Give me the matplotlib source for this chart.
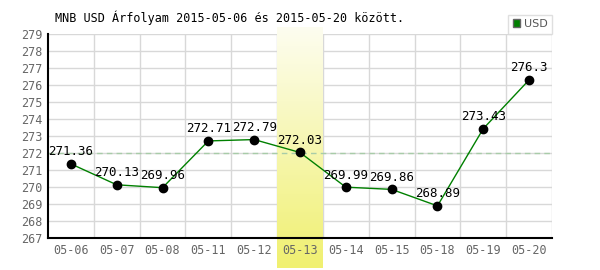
import numpy as np
import matplotlib.pyplot as plt
import matplotlib.colors as mcolors

dates = ['05-06', '05-07', '05-08', '05-11', '05-12', '05-13',
         '05-14', '05-15', '05-18', '05-19', '05-20']
usd = [271.36, 270.13, 269.96, 272.71, 272.79, 272.03,
       269.99, 269.86, 268.89, 273.43, 276.3]
avg_line = 272
highlight = '05-13'
title = 'MNB USD Árfolyam 2015-05-06 és 2015-05-20 között.'

plt.rcParams['font.family'] = ['DejaVu Sans Mono']

fig = plt.figure(figsize=(6, 2.7), dpi=100)
ax = fig.add_axes([48 / 600, 32 / 270, 504 / 600, 204 / 270])

x = np.arange(len(dates))

# grid
ax.set_yticks(np.arange(267, 280, 1))
ax.set_xticks(x)
ax.set_xticklabels(dates)
for b in np.arange(0.5, len(dates), 1):
    ax.axvline(b, color='#d8d8d8', lw=1, zorder=0)
for yv in np.arange(268, 280, 1):
    ax.axhline(yv, color='#d8d8d8', lw=1, zorder=0)

# highlighted day, gradient runs past the axes
hi = dates.index(highlight)
grad = np.linspace(0, 1, 256).reshape(-1, 1)
cmap = mcolors.LinearSegmentedColormap.from_list('hl', ['#fdfdf0', '#f0f070'])
ax.imshow(grad, cmap=cmap, aspect='auto', origin='upper',
          extent=(hi - 0.5, hi + 0.5, 265.24, 279.41), clip_on=False, zorder=0.5)
ax.set_xlim(-0.5, len(dates) - 0.5)
ax.set_ylim(267, 279)

ax.axhline(avg_line, color='#a8cca8', lw=1, ls=(0, (4, 3)), zorder=1)

ax.plot(x, usd, color='#008000', lw=1, zorder=2)
ax.plot(x, usd, 'o', color='black', ms=6, zorder=3)
for xi, v in zip(x, usd):
    ax.annotate(f'{v:g}', (xi, v), xytext=(0, 4), textcoords='offset points',
                ha='center', va='bottom', fontsize=9, color='black', zorder=4)

for s in ['top', 'right']:
    ax.spines[s].set_visible(False)
ax.spines['left'].set_linewidth(1.5)
ax.spines['bottom'].set_linewidth(1.5)
ax.tick_params(length=0, colors='#666666', labelsize=8.5)
ax.tick_params(axis='x', pad=4)
ax.tick_params(axis='y', pad=4)

fig.text(55 / 600, 1 - 18 / 270, title, fontsize=8.5, va='center', ha='left', color='black')

# legend box
lg = ax.legend([plt.Rectangle((0, 0), 1, 1, fc='#008000', ec='#666666')], ['USD'],
               loc='upper right', bbox_to_anchor=(1.0, 1.095), frameon=True,
               fancybox=False, fontsize=8, handlelength=0.7, handleheight=0.7,
               handletextpad=0.3, borderpad=0.4, borderaxespad=0)
lg.get_frame().set_edgecolor('#d8d8d8')
lg.get_frame().set_linewidth(1)
for t in lg.get_texts():
    t.set_color('#555555')
    t.set_family('DejaVu Sans')

fig.savefig('out.png', dpi=100)
